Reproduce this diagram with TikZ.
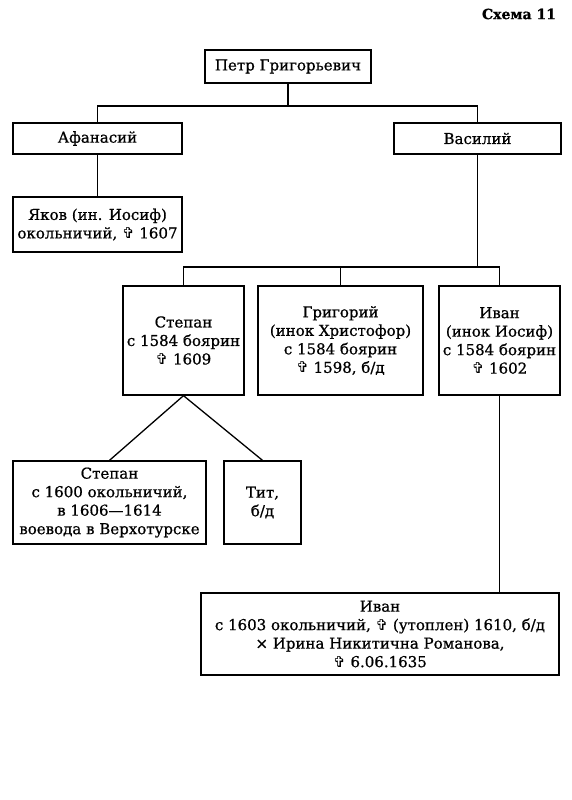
\documentclass[tikz,border=0pt]{standalone}
\usepackage{fontspec}
\setmainfont{DejaVu Serif}[RawFeature={embolden=0.8}]
\newfontfamily\crossfont{DejaVu Sans}
\newcommand{\krest}{{\crossfont ✞}}
\usetikzlibrary{positioning}

\begin{document}
\begin{tikzpicture}[x=1pt,y=-1pt,line width=1.3pt,font=\fontsize{15}{18.5}\selectfont]
		\tikzstyle{person}=[draw,align=center,inner sep=0pt]
		\useasboundingbox (0,0) rectangle (572,800);

		\node[anchor=east,font=\fontsize{14}{16}\selectfont\bfseries] (title) at (560,14) {Схема 11};

		\node[person,minimum width=166,minimum height=33] (petr) at (288,66.5) {Петр Григорьевич};
		\node[person,minimum width=169,minimum height=31] (afan) at (97.5,138.5) {Афанасий};
		\node[person,minimum width=167,minimum height=31] (vasil) at (477.5,138.5) {Василий};
		\node[person,minimum width=169,minimum height=55] (yakov) at (97.5,224.5) {Яков (ин. Иосиф)\\окольничий, \krest{} 1607};

		\node[person,minimum width=121,minimum height=109] (stepan) at (183.5,340.5) {Степан\\с 1584 боярин\\\krest{} 1609};
		\node[person,minimum width=165,minimum height=109] (grig) at (340.5,340.5) {Григорий\\(инок Христофор)\\с 1584 боярин\\\krest{} 1598, б/д};
		\node[person,minimum width=121,minimum height=109] (ivan) at (499.5,340.5) {Иван\\(инок Иосиф)\\с 1584 боярин\\\krest{} 1602};

		\node[person,minimum width=193,minimum height=83] (stepan2) at (109.5,502.5) {Степан\\с 1600 окольничий,\\в 1606—1614\\воевода в Верхотурске};
		\node[person,minimum width=77,minimum height=83] (tit) at (262.5,502.5) {Тит,\\б/д};

		\node[person,minimum width=358,minimum height=82] (ivan2) at (380,634) {Иван\\с 1603 окольничий, \krest{} (утоплен) 1610, б/д\\× Ирина Никитична Романова,\\\krest{} 6.06.1635};

		% branches
		\coordinate (j1) at (288,106);
		\coordinate (j2) at (477.5,267);
		\draw (petr) -- (j1);
		\draw (afan.north) |- (j1) -| (vasil.north);
		\draw (afan) -- (yakov);
		\draw (vasil) -- (j2);
		\draw (stepan.north) |- (j2) -| (ivan.north);
		\draw (grig) -- (grig |- j2);
		\draw (stepan.south) -- (stepan2.north);
		\draw (stepan.south) -- (tit.north);
		\draw (ivan) -- (ivan |- ivan2.north);

	\end{tikzpicture}
\end{document}
